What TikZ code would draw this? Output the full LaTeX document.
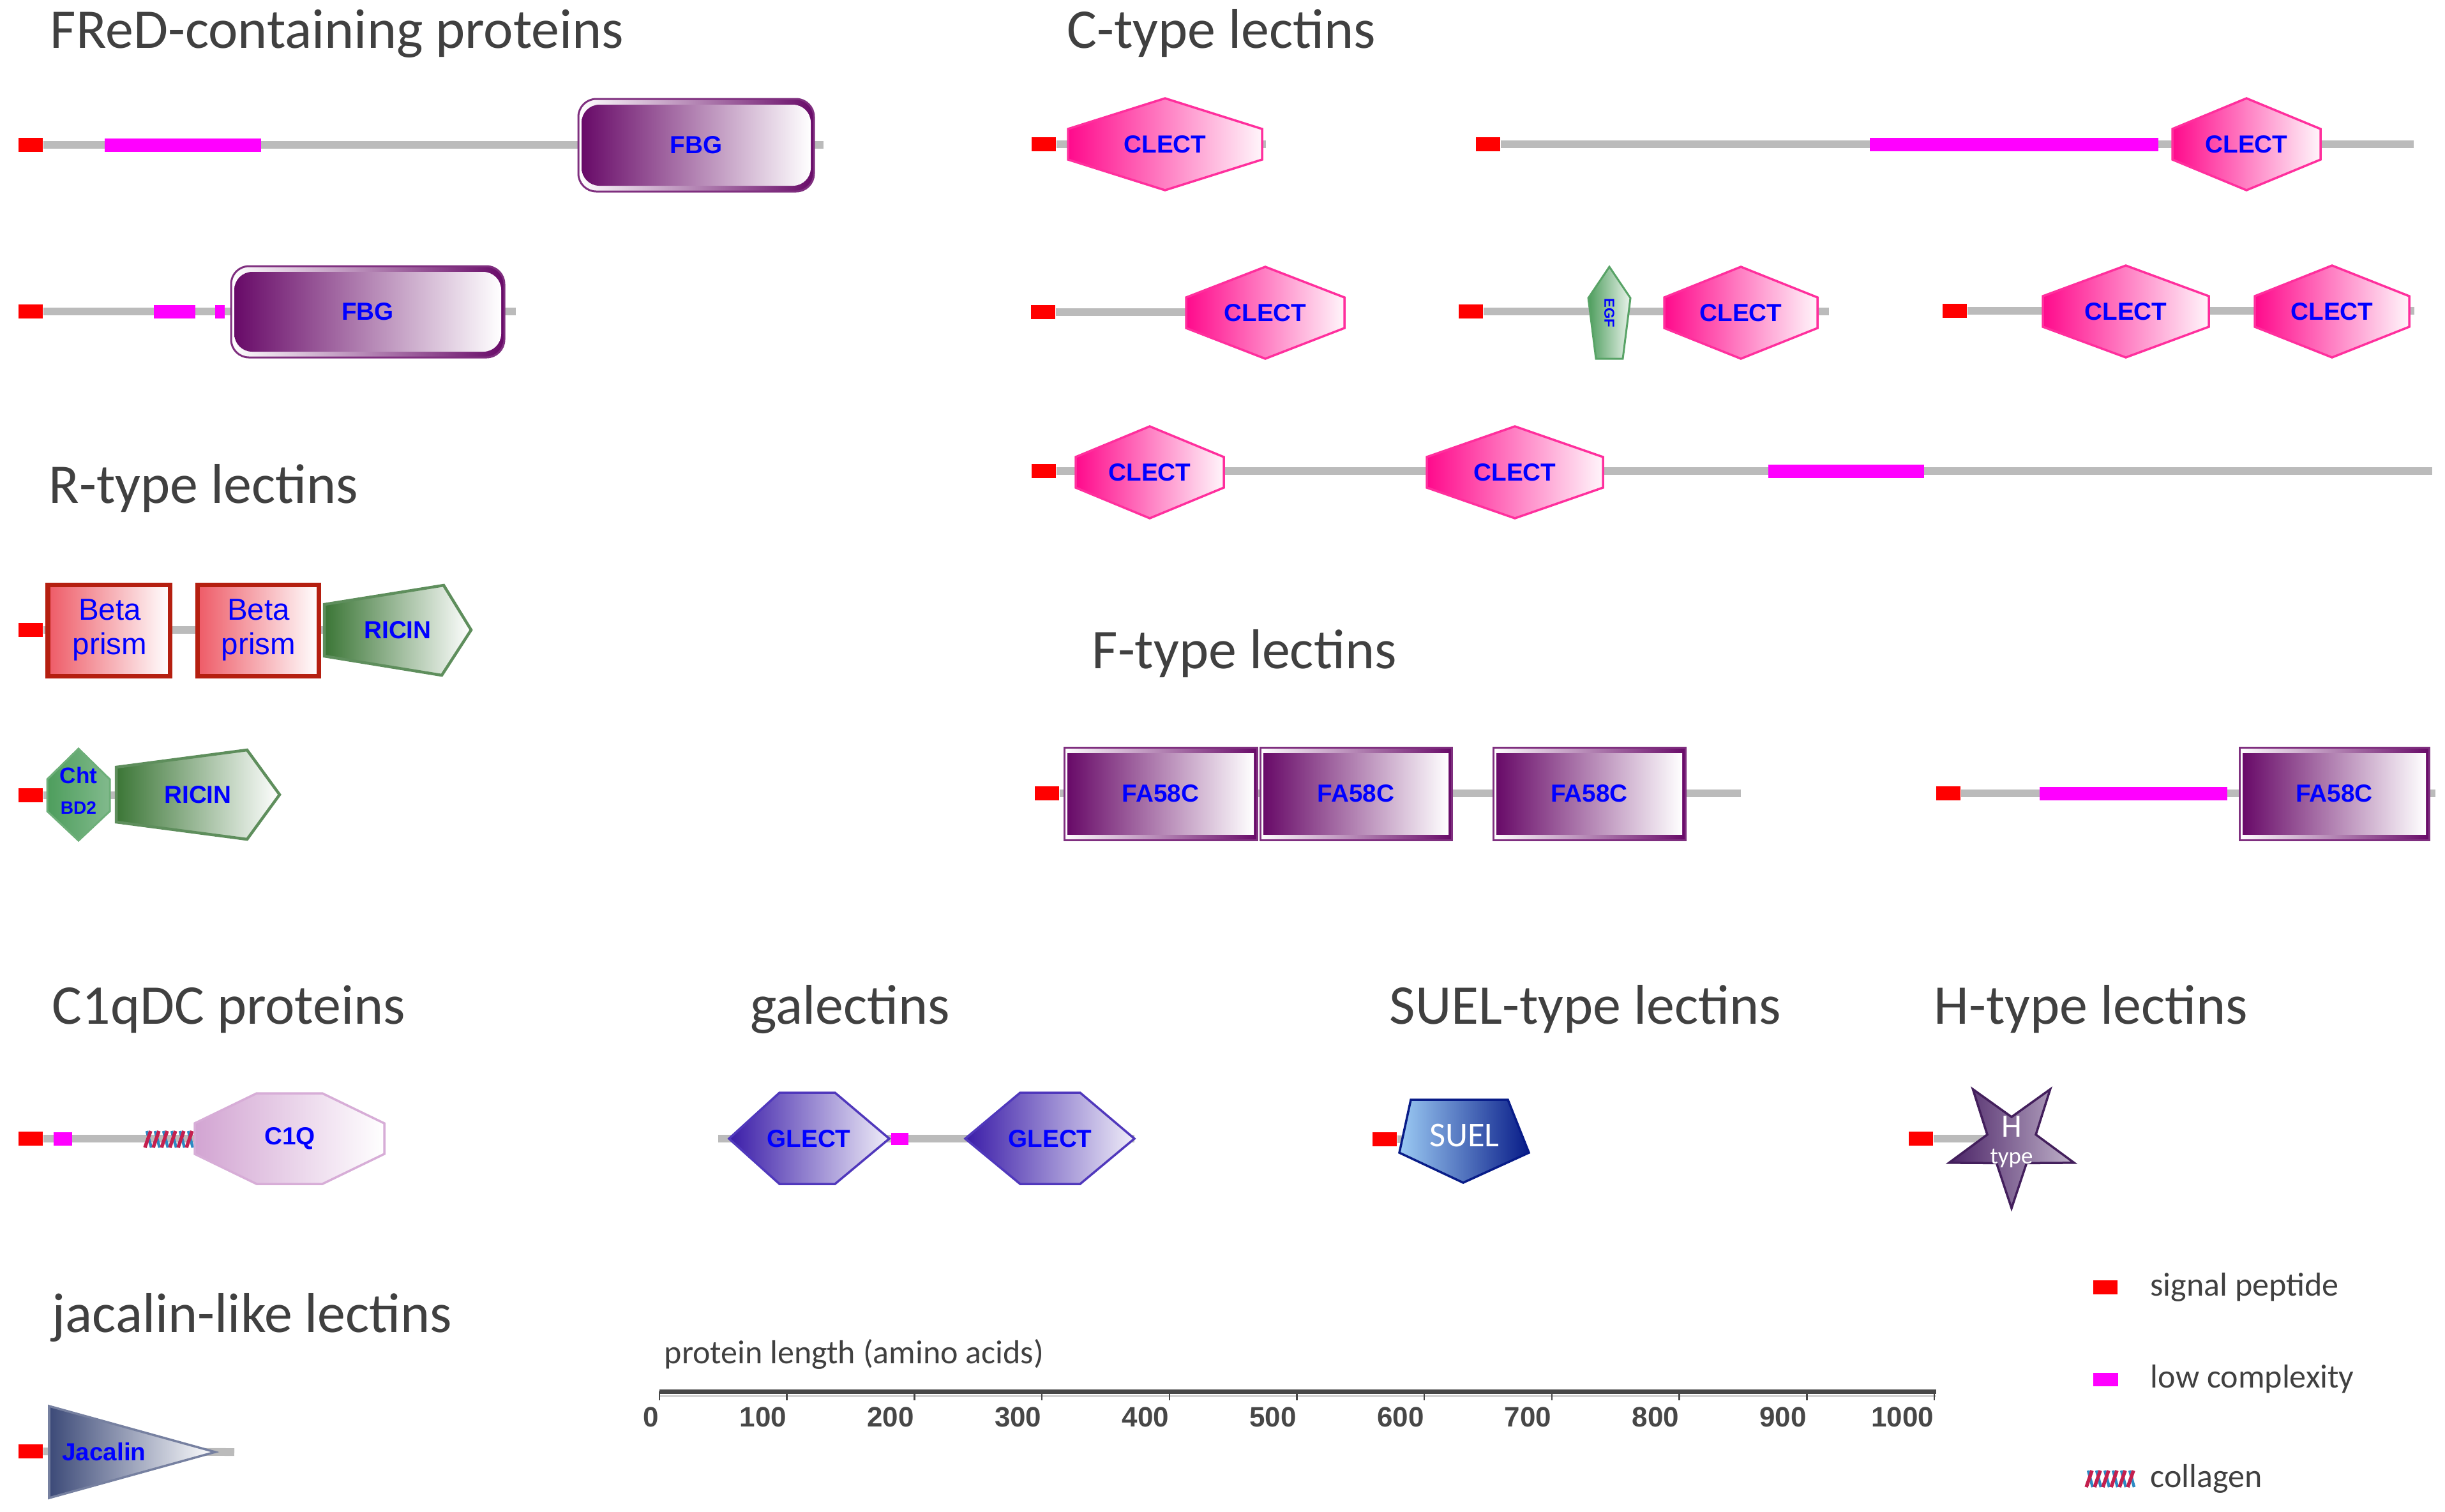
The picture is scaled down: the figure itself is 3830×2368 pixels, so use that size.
\documentclass[tikz,border=0pt]{standalone}
\usepackage{fontspec}
\setmainfont{Carlito}
\newfontfamily\arialfont{Liberation Sans}
\usetikzlibrary{positioning}

\definecolor{sigred}{HTML}{FF0000}
\definecolor{lowcmag}{HTML}{FF00FF}
\definecolor{bbgrey}{HTML}{BBBBBB}
\definecolor{txtgrey}{HTML}{404040}
\definecolor{axisgrey}{HTML}{474747}
\definecolor{lblblue}{HTML}{0000FF}
\definecolor{fbgpurple}{HTML}{680A68}
\definecolor{clectpink}{HTML}{FF0A8C}
\definecolor{betared}{HTML}{EE5A66}
\definecolor{betaedge}{HTML}{B51F10}
\definecolor{ricingreen}{HTML}{3B7636}
\definecolor{ricinedge}{HTML}{5E8E5C}
\definecolor{chtgreen}{HTML}{2E8C40}
\definecolor{c1qpink}{HTML}{D2A4D2}
\definecolor{glectblue}{HTML}{3A1CA8}
\definecolor{glectedge}{HTML}{5038BC}
\definecolor{suellight}{HTML}{9CCBF4}
\definecolor{suelmid}{HTML}{1C4AB0}
\definecolor{sueldark}{HTML}{081C88}
\definecolor{hpurple}{HTML}{4A2266}
\definecolor{jacblue}{HTML}{3C4A78}
\definecolor{colred}{HTML}{C4204E}
\definecolor{colblue}{HTML}{2C8AC4}

% hexagon with pointed top and bottom: name, cx, cy, half width, half height
\newcommand{\clect}[5]{%
  \shade[clectbox] (#2,{#3-#5}) -- ({#2+#4},{#3-#5/3}) -- ({#2+#4},{#3+#5/3})
    -- (#2,{#3+#5}) -- ({#2-#4},{#3+#5/3}) -- ({#2-#4},{#3-#5/3}) -- cycle;
  \node[dlab] (#1) at (#2,#3) {CLECT};}

% bevelled box: [extra], name, x1, y1, x2, y2, label
\newcommand{\domainbox}[7][]{%
  \shade[faouter,#1] (#3,#4) rectangle (#5,#6);
  \shade[fainner,#1] ({#3+5},{#4+9}) rectangle ({#5-5},{#6-9});
  \node[dlab] (#2) at ({(#3+#5)/2},{(#4+#6)/2}) {#7};}

% collagen helix: x left, y centre, name
\newcommand{\collagen}[3]{%
  \coordinate (#3) at (#1,#2);
  \foreach \k in {0,...,5} {
    \draw[colblue, line width=0.45mm] ({#1+13*\k+3},{#2-13}) -- ({#1+13*\k+10},{#2+13});
    \draw[colred, line width=0.55mm] ({#1+13*\k},{#2+13}) -- ({#1+13*\k+9},{#2-13});
  }}

\begin{document}
\begin{tikzpicture}[x=0.01cm, y=-0.01cm,
    title/.style = {anchor=base west, inner sep=0, text=txtgrey,
        font=\fontsize{25}{30}\selectfont},
    legtext/.style = {anchor=west, inner sep=0, text=txtgrey,
        font=\fontsize{14.8}{17}\selectfont},
    sig/.style = {rectangle, fill=sigred, minimum width=3.8mm,
        minimum height=2.2mm, inner sep=0},
    lowc/.style = {rectangle, fill=lowcmag, minimum height=2.1mm, inner sep=0},
    bb/.style = {draw=bbgrey, line width=1.2mm},
    dlab/.style = {inner sep=0, text=lblblue,
        font=\arialfont\bfseries\fontsize{11}{13}\selectfont},
    betalab/.style = {inner sep=0, align=center, text=lblblue,
        font=\arialfont\fontsize{13.5}{15.4}\selectfont},
    clectbox/.style = {left color=clectpink, right color=clectpink!4!white,
        draw=clectpink!85, line width=0.35mm},
    faouter/.style = {left color=white, right color=fbgpurple,
        draw=fbgpurple!85, line width=0.3mm},
    fainner/.style = {left color=fbgpurple, right color=white},
    betabox/.style = {left color=betared, right color=white,
        draw=betaedge, line width=0.7mm},
    ricinbox/.style = {left color=ricingreen, right color=white,
        draw=ricinedge, line width=0.45mm},
    chtbox/.style = {left color=chtgreen!85, middle color=chtgreen!8!white,
        right color=chtgreen!60, draw=chtgreen!70, line width=0.3mm},
    c1qbox/.style = {left color=c1qpink, right color=white,
        draw=c1qpink!90, line width=0.35mm},
    glectbox/.style = {left color=glectblue, right color=glectblue!8!white,
        draw=glectedge, line width=0.35mm},
    suelbox/.style = {left color=suellight, middle color=suelmid,
        right color=sueldark, draw=sueldark, line width=0.35mm},
    hbox/.style = {left color=hpurple, right color=hpurple!35!white,
        draw=hpurple!90!black, line width=0.35mm},
    jacbox/.style = {left color=jacblue, right color=white,
        draw=jacblue!70, line width=0.35mm},
    ticklab/.style = {anchor=north east, inner sep=0, text=axisgrey,
        font=\arialfont\bfseries\fontsize{12.5}{14}\selectfont}]

\useasboundingbox (0,0) rectangle (3830,2368);
\fill[white] (0,0) rectangle (3830,2368);

% Group titles
\node[title] (tfred) at (78,75) {FReD-containing proteins};
\node[title] (tctype) at (1671,75) {C-type lectins};
\node[title] (trtype) at (76,788) {R-type lectins};
\node[title] (tftype) at (1710,1047) {F-type lectins};
\node[title] (tc1q) at (81,1604) {C1qDC proteins};
\node[title] (tgal) at (1175,1604) {galectins};
\node[title] (tsuel) at (2176,1604) {SUEL-type lectins};
\node[title] (thtype) at (3029,1604) {H-type lectins};
\node[title] (tjac) at (81,2087) {jacalin-like lectins};

% FReD protein 1
\node[sig] (sp1) at (48,227) {};
\coordinate (e1) at (1290,227);
\draw[bb] (sp1.east) -- (e1);
\node[lowc, minimum width=24.5mm] (lc1) at (286.5,227) {};
\domainbox[rounded corners=2.8mm]{fbg1}{906}{155}{1275}{300}{FBG}

% FReD protein 2
\node[sig] (sp2) at (48,488) {};
\coordinate (e2) at (808,488);
\draw[bb] (sp2.east) -- (e2);
\node[lowc, minimum width=6.5mm] (lc2a) at (273.5,488) {};
\node[lowc, minimum width=1.5mm] (lc2b) at (344.5,488) {};
\domainbox[rounded corners=2.8mm]{fbg2}{362}{417}{790}{560}{FBG}

% C-type protein 1
\node[sig] (sp3) at (1635,226) {};
\coordinate (e3) at (1983,226);
\draw[bb] (sp3.east) -- (e3);
\clect{cl1}{1825}{226}{152}{72}

% C-type protein 2
\node[sig] (sp4) at (2331,226) {};
\coordinate (e4) at (3781,226);
\draw[bb] (sp4.east) -- (e4);
\node[lowc, minimum width=45.2mm] (lc4) at (3155,226) {};
\clect{cl2}{3519}{226}{116}{72}

% C-type protein 3
\node[sig] (sp5) at (1634,489) {};
\coordinate (e5) at (2107,489);
\draw[bb] (sp5.east) -- (e5);
\clect{cl3}{1982}{490}{124}{72}

% C-type protein 4
\node[sig] (sp6) at (2304,488) {};
\coordinate (e6) at (2865,488);
\draw[bb] (sp6.east) -- (e6);
\shade[left color=chtgreen!85, right color=chtgreen!10!white,
    draw=chtgreen!80, line width=0.3mm]
    (2521,418) -- (2554,467) -- (2542,562) -- (2500,562) -- (2488,467) -- cycle;
\node[dlab, rotate=-90, font=\arialfont\bfseries\fontsize{6.3}{7}\selectfont]
    (egf) at (2521,490) {EGF};
\clect{cl4}{2727}{490}{120}{72}

% C-type protein 5
\node[sig] (sp7) at (3062,487) {};
\coordinate (e7) at (3782,487);
\draw[bb] (sp7.east) -- (e7);
\clect{cl5}{3330}{488}{130}{72}
\clect{cl6}{3653}{488}{121}{72}

% C-type protein 6
\node[sig] (sp8) at (1635,738) {};
\coordinate (e8) at (3810,738);
\draw[bb] (sp8.east) -- (e8);
\clect{cl7}{1801}{740}{116}{72}
\clect{cl8}{2373}{740}{138}{72}
\node[lowc, minimum width=24.4mm] (lc8) at (2892,738) {};

% R-type protein 1
\node[sig] (sp9) at (48,987) {};
\coordinate (e9) at (508,987);
\draw[bb] (sp9.east) -- (e9);
\shade[betabox] (75,916) rectangle (266,1059);
\node[betalab] (bp1) at (172,987) {Beta\\prism};
\shade[betabox] (309,916) rectangle (499,1059);
\node[betalab] (bp2) at (405,987) {Beta\\prism};
\shade[ricinbox] (508,947) -- (695,917) -- (738,987) -- (692,1058) -- (508,1028) -- cycle;
\node[dlab] (ric1) at (623,987) {RICIN};

% R-type protein 2
\node[sig] (sp10) at (48,1246) {};
\coordinate (e10) at (182,1246);
\draw[bb] (sp10.east) -- (e10);
\shade[chtbox] (123,1173) -- (172,1221) -- (172,1271) -- (123,1317) -- (74,1271) -- (74,1221) -- cycle;
\node[dlab, font=\arialfont\bfseries\fontsize{10}{12}\selectfont] (chta) at (123,1215) {Cht};
\node[dlab, font=\arialfont\bfseries\fontsize{8}{10}\selectfont] (chtb) at (123,1266) {BD2};
\shade[ricinbox] (182,1202) -- (387,1175) -- (438,1245) -- (387,1315) -- (182,1288) -- cycle;
\node[dlab] (ric2) at (310,1245) {RICIN};

% F-type protein 1
\node[sig] (sp11) at (1640,1243) {};
\coordinate (e11) at (2727,1243);
\draw[bb] (sp11.east) -- (e11);
\domainbox{fa1}{1667}{1171}{1969}{1316}{FA58C}
\domainbox{fa2}{1974}{1171}{2274}{1316}{FA58C}
\domainbox{fa3}{2339}{1171}{2640}{1316}{FA58C}

% F-type protein 2
\node[sig] (sp12) at (3052,1243) {};
\coordinate (e12) at (3815,1243);
\draw[bb] (sp12.east) -- (e12);
\node[lowc, minimum width=29.3mm] (lc12) at (3342,1243) {};
\domainbox{fa4}{3508}{1171}{3805}{1316}{FA58C}

% C1qDC protein
\node[sig] (sp13) at (48,1784) {};
\coordinate (e13) at (305,1784);
\draw[bb] (sp13.east) -- (e13);
\node[lowc, minimum width=2.9mm] (lc13) at (98.5,1784) {};
\collagen{227}{1785}{col1}
\shade[c1qbox] (305,1760) -- (402,1713) -- (505,1713) -- (602,1760) -- (602,1808)
    -- (505,1855) -- (402,1855) -- (305,1808) -- cycle;
\node[dlab] (c1q) at (454,1784) {C1Q};

% galectin protein
\coordinate (s14) at (1125,1784);
\coordinate (e14) at (1777,1784);
\draw[bb] (s14) -- (e14);
\shade[glectbox] (1142,1784) -- (1221,1712) -- (1308,1712) -- (1393,1784) -- (1308,1855) -- (1221,1855) -- cycle;
\node[dlab] (gl1) at (1267,1784) {GLECT};
\node[lowc, minimum width=2.7mm, minimum height=1.9mm] (lc14) at (1409.5,1784) {};
\shade[glectbox] (1512,1784) -- (1598,1712) -- (1692,1712) -- (1777,1784) -- (1692,1855) -- (1598,1855) -- cycle;
\node[dlab] (gl2) at (1645,1784) {GLECT};

% SUEL-type protein
\node[sig] (sp15) at (2169,1785) {};
\coordinate (e15) at (2205,1785);
\draw[bb] (sp15.east) -- (e15);
\shade[suelbox] (2210,1723) -- (2362,1723) -- (2395,1806) -- (2292,1853) -- (2192,1806) -- cycle;
\node[text=white, inner sep=0, font=\fontsize{15.5}{18}\selectfont] (suel) at (2294,1779) {SUEL};

% H-type protein
\node[sig] (sp16) at (3009,1784) {};
\coordinate (e16) at (3110,1784);
\draw[bb] (sp16.east) -- (e16);
\shade[hbox, shift={(3151,1790)}] (90:103) -- (126:40) -- (162:103) -- (198:40) -- (234:103)
    -- (270:40) -- (306:103) -- (342:40) -- (18:103) -- (54:40) -- cycle;
\node[text=white, inner sep=0, align=center] (hlab) at (3151,1789)
    {{\fontsize{14.5}{12}\selectfont H}\\{\fontsize{10.5}{9}\selectfont type}};

% jacalin-like protein
\node[sig] (sp17) at (48,2274) {};
\coordinate (e17) at (367,2275);
\draw[bb] (sp17.east) -- (e17);
\shade[jacbox] (77,2203) -- (337,2275) -- (77,2347) -- cycle;
\node[dlab] (jac) at (163,2275) {Jacalin};

% Length scale
\node[legtext] (axtitle) at (1040,2122) {protein length (amino acids)};
\coordinate (ax0) at (1033,2180);
\coordinate (ax1) at (3033,2180);
\draw[gray!35, line width=0.3mm] (1033,2187) -- (3033,2187);
\draw[axisgrey, line width=0.7mm] (ax0) -- (ax1);
\foreach \i in {0,...,10} {
  \pgfmathsetmacro{\tickx}{1033+199.7*\i}
  \pgfmathtruncatemacro{\ticknum}{100*\i}
  \draw[axisgrey, line width=0.25mm] (\tickx,2180) -- (\tickx,2194);
  \node[ticklab] (tk\i) at (\tickx,2204) {\ticknum};
}

% Legend
\node[sig] (lgsp) at (3298,2017) {};
\node[legtext, right=5mm of lgsp] (lgsptxt) {signal peptide};
\node[lowc, minimum width=3.9mm] (lglc) at (3298,2161) {};
\node[legtext, right=5mm of lglc] (lglctxt) {low complexity};
\collagen{3268}{2317}{lgcol}
\node[legtext] (lgcoltxt) at (3368,2317) {collagen};

\end{tikzpicture}
\end{document}
